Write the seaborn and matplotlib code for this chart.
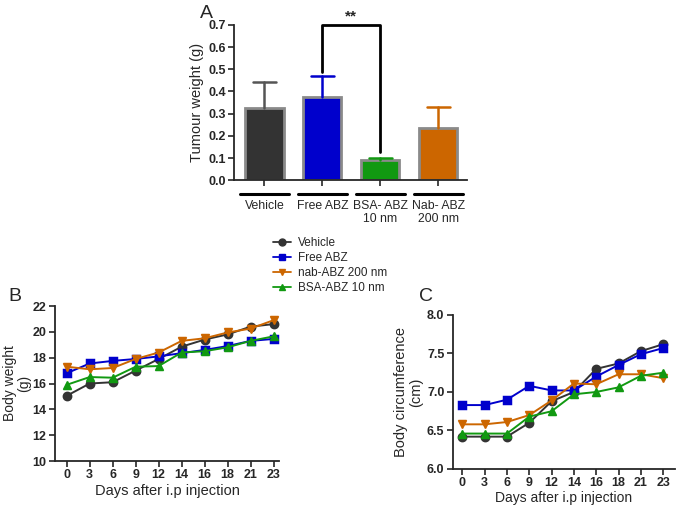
import pandas as pd
import seaborn as sns
import matplotlib.pyplot as plt
import matplotlib.transforms as mtransforms
from matplotlib.lines import Line2D

sns.set_style('ticks')
plt.rcParams['font.family'] = ['Liberation Sans', 'DejaVu Sans']

# panel A data
bar_groups = ['Vehicle', 'Free ABZ', 'BSA- ABZ\n10 nm', 'Nab- ABZ\n200 nm']
tumour_mean = [0.325, 0.375, 0.090, 0.237]
tumour_top = [0.443, 0.468, 0.100, 0.332]
bar_colors = ['#333333', '#0000cc', '#119911', '#cc6600']
err_colors = ['#555555', '#0000cc', '#119911', '#cc6600']

# panels B and C data
days = ['0', '3', '6', '9', '12', '14', '16', '18', '21', '23']
series = ['Vehicle', 'Free ABZ', 'nab-ABZ 200 nm', 'BSA-ABZ 10 nm']
line_colors = ['#333333', '#0000cc', '#cc6600', '#119911']
line_markers = ['o', 's', 'v', '^']

weight_vehicle = [15.05, 16.0, 16.1, 17.0, 17.9, 18.85, 19.4, 19.8, 20.4, 20.6]
weight_free = [16.8, 17.55, 17.75, 17.9, 18.1, 18.35, 18.6, 18.9, 19.3, 19.45]
weight_nab = [17.3, 17.1, 17.2, 17.9, 18.4, 19.3, 19.5, 19.95, 20.25, 20.9]
weight_bsa = [15.9, 16.5, 16.45, 17.3, 17.35, 18.4, 18.5, 18.8, 19.3, 19.65]

circ_vehicle = [6.42, 6.42, 6.42, 6.6, 6.88, 7.0, 7.3, 7.37, 7.53, 7.62]
circ_free = [6.83, 6.83, 6.9, 7.08, 7.02, 7.02, 7.2, 7.35, 7.49, 7.57]
circ_nab = [6.58, 6.58, 6.61, 6.7, 6.89, 7.11, 7.1, 7.23, 7.23, 7.18]
circ_bsa = [6.46, 6.46, 6.46, 6.68, 6.75, 6.97, 7.0, 7.06, 7.21, 7.25]


def long_df(cols):
    rows = []
    for name, vals in zip(series, cols):
        for d, v in zip(days, vals):
            rows.append({'day': d, 'group': name, 'value': v})
    return pd.DataFrame(rows)


df_w = long_df([weight_vehicle, weight_free, weight_nab, weight_bsa])
df_c = long_df([circ_vehicle, circ_free, circ_nab, circ_bsa])
df_bar = pd.DataFrame({'group': bar_groups, 'mean': tumour_mean})

fig = plt.figure(figsize=(6.85, 5.09), dpi=100)

# ---- A
axA = fig.add_axes([0.342, 0.646, 0.340, 0.305])
sns.barplot(data=df_bar, x='group', y='mean', hue='group', palette=bar_colors,
            legend=False, width=0.66, saturation=1, edgecolor='#8a8a8a',
            linewidth=2, ax=axA)
for i, (m, t) in enumerate(zip(tumour_mean, tumour_top)):
    axA.plot([i, i], [m, t], color=err_colors[i], lw=1.8, zorder=1)
    axA.plot([i - 0.2, i + 0.2], [t, t], color=err_colors[i], lw=1.8, zorder=1)
axA.set_xlim(-0.52, 3.5)
axA.set_ylim(0, 0.7)
axA.set_yticks([0.0, 0.1, 0.2, 0.3, 0.4, 0.5, 0.6, 0.7])
axA.set_yticklabels([f'{v:.1f}' for v in axA.get_yticks()], fontweight='bold', fontsize=9)
axA.set_xticklabels([])
axA.set_xlabel('')
axA.set_ylabel('Tumour weight (g)', fontsize=10.5, labelpad=3)
axA.tick_params(width=1.2, length=4, pad=2)
for s in ['left', 'bottom']:
    axA.spines[s].set_linewidth(1.3)
sns.despine(ax=axA)
# significance bracket
axA.plot([1, 1, 2, 2], [0.49, 0.70, 0.70, 0.125], color='black', lw=2, clip_on=False)
axA.text(1.5, 0.705, '**', ha='center', va='bottom', fontsize=11, fontweight='bold')
# group labels under bars
trans = mtransforms.blended_transform_factory(axA.transData, axA.transAxes)
for i, lab in enumerate(bar_groups):
    axA.plot([i - 0.42, i + 0.42], [-0.09, -0.09], color='black', lw=2.2,
             transform=trans, clip_on=False)
    axA.text(i, -0.13, lab, ha='center', va='top', fontsize=8.8, transform=trans,
             linespacing=1.1)
fig.text(0.292, 0.99, 'A', fontsize=14, va='top')

# ---- B
axB = fig.add_axes([0.080, 0.0943, 0.328, 0.3045])
sns.pointplot(data=df_w, x='day', y='value', hue='group', palette=line_colors,
              markers=line_markers, markersize=6, linewidth=1.4, ax=axB, legend=False)
axB.set_xlim(-0.52, 9.26)
axB.set_ylim(10, 22)
axB.set_yticks(range(10, 23, 2))
axB.set_ylabel('Body weight\n(g)', fontsize=10, linespacing=1.0, labelpad=1)
axB.set_xlabel('Days after i.p injection', fontsize=10.5, labelpad=2)
sns.despine(ax=axB)
fig.text(0.012, 0.435, 'B', fontsize=14, va='top')

# ---- C
axC = fig.add_axes([0.661, 0.0786, 0.324, 0.3026])
sns.pointplot(data=df_c, x='day', y='value', hue='group', palette=line_colors,
              markers=line_markers, markersize=6, linewidth=1.4, ax=axC, legend=False)
axC.set_xlim(-0.43, 9.52)
axC.set_ylim(6.0, 8.0)
axC.set_yticks([6.0, 6.5, 7.0, 7.5, 8.0])
axC.set_yticklabels([f'{v:.1f}' for v in axC.get_yticks()])
axC.set_ylabel('Body circumference\n(cm)', fontsize=10.5, linespacing=1.05, labelpad=3)
axC.set_xlabel('Days after i.p injection', fontsize=10, labelpad=1)
sns.despine(ax=axC)
fig.text(0.612, 0.435, 'C', fontsize=14, va='top')

for ax in [axB, axC]:
    ax.tick_params(width=1.2, length=4, labelsize=9, pad=2)
    for lab in ax.get_xticklabels() + ax.get_yticklabels():
        lab.set_fontweight('bold')
    for s in ['left', 'bottom']:
        ax.spines[s].set_linewidth(1.3)

# shared legend
handles = [Line2D([], [], color=c, marker=m, markersize=5, lw=1.3)
           for c, m in zip(line_colors, line_markers)]
fig.legend(handles, series, loc='upper left', bbox_to_anchor=(0.39, 0.545),
           frameon=False, fontsize=8.5, handlelength=1.5, handletextpad=0.6,
           labelspacing=0.25, borderpad=0)

fig.savefig('out.png', dpi=100)
